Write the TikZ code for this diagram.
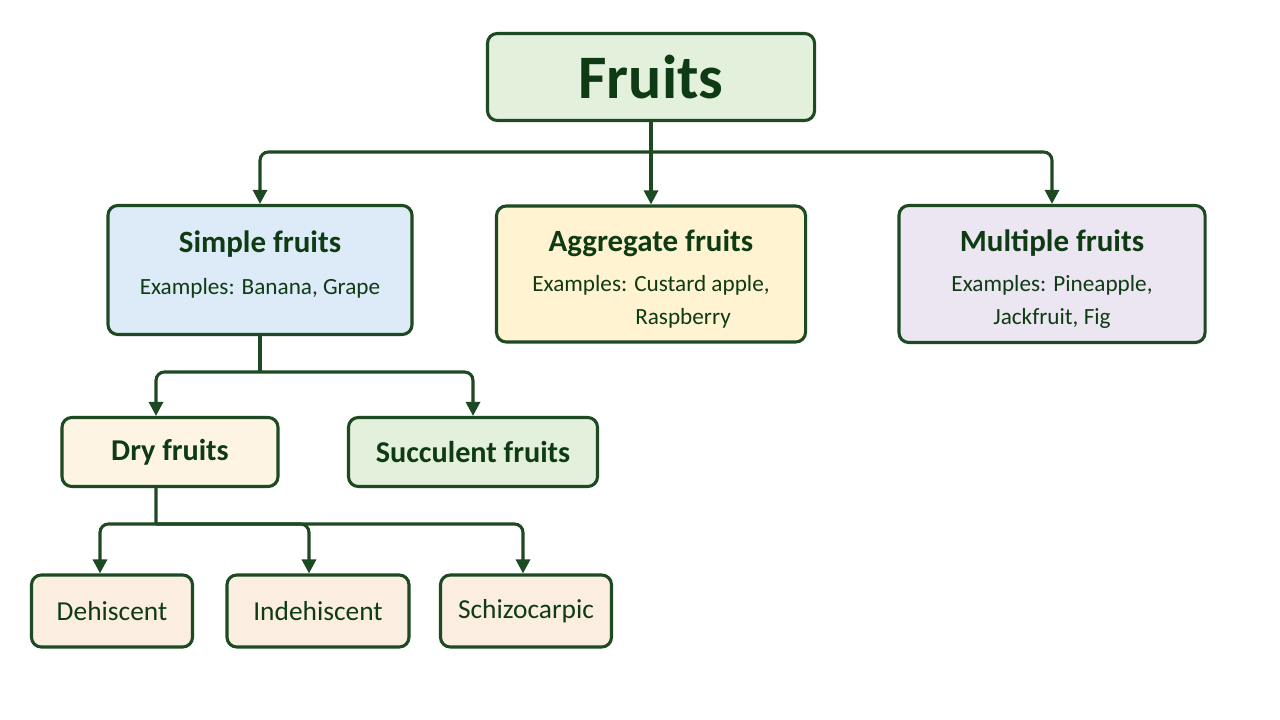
\documentclass[tikz,border=0pt]{standalone}
\usepackage{fontspec}
\setmainfont{Carlito}
\usepackage{tikz}
\usetikzlibrary{arrows.meta,positioning}

\definecolor{linegreen}{HTML}{1D4A22}
\definecolor{textgreen}{HTML}{0E3B13}
\definecolor{rootfill}{HTML}{E3F0DB}
\definecolor{simplefill}{HTML}{DDEBF8}
\definecolor{aggrfill}{HTML}{FFF3D1}
\definecolor{multifill}{HTML}{ECE6F3}
\definecolor{dryfill}{HTML}{FDF4E4}
\definecolor{succfill}{HTML}{E3F0DB}
\definecolor{leaffill}{HTML}{FCEDE1}

\begin{document}
\begin{tikzpicture}[
    x=0.025cm, y=-0.025cm,
    box/.style={
        draw=linegreen,
        line width=2.2pt,
        rounded corners=7pt,
        align=center,
        text=textgreen,
        inner sep=2pt
    },
    root/.style={box, fill=rootfill, font=\fontsize{44}{48}\selectfont\bfseries},
    kind/.style={box, font=\fontsize{16.5}{23.5}\selectfont},
    sub/.style={box, font=\fontsize{21.5}{24}\selectfont\bfseries},
    leaf/.style={box, fill=leaffill, font=\fontsize{19.5}{22}\selectfont},
    arrow/.style={-{Triangle[length=10pt,width=10pt]}, line width=2.2pt, draw=linegreen},
    bar/.style={arrow, rounded corners=6pt}
]
\useasboundingbox (0,0) rectangle (1280,720);

\node[root, minimum width=8.175cm, minimum height=2.175cm] (fruits) at (651,77) {Fruits};

\node[kind, fill=simplefill, minimum width=7.6cm, minimum height=3.225cm] (simple) at (260,270)
    {{\fontsize{22}{24}\selectfont\bfseries Simple fruits}\\[6pt]Examples: Banana, Grape\\[-13pt]\mbox{}};
\node[kind, fill=aggrfill, minimum width=7.725cm, minimum height=3.4cm] (aggregate) at (651,274)
    {\mbox{}\\[-1pt]{\fontsize{22}{24}\selectfont\bfseries Aggregate fruits}\\[5pt]Examples: Custard apple,\\\hspace*{1.6cm}Raspberry};
\node[kind, fill=multifill, minimum width=7.65cm, minimum height=3.425cm] (multiple) at (1052,274)
    {\mbox{}\\[-1pt]{\fontsize{22}{24}\selectfont\bfseries Multiple fruits}\\[5pt]Examples: Pineapple,\\Jackfruit, Fig};

\node[sub, fill=dryfill, minimum width=5.4cm, minimum height=1.725cm] (dry) at (170,452) {Dry fruits};
\node[sub, fill=succfill, minimum width=6.225cm, minimum height=1.725cm] (succulent) at (473,452) {Succulent fruits};

\node[leaf, minimum width=4.025cm, minimum height=1.8cm] (dehiscent) at (112,611) {Dehiscent};
\node[leaf, minimum width=4.55cm, minimum height=1.8cm] (indehiscent) at (318,611) {Indehiscent};
\node[leaf, minimum width=4.275cm, minimum height=1.8cm] (schizo) at (526,611) {Schizocarpic};

% branch points
\coordinate (fruitsbar) at (651,152);
\coordinate (simplebar) at (260,372);
\coordinate (drybar) at (156,524);

\draw[arrow] (fruits.south) -- (aggregate.north);
\draw[bar] (fruitsbar) -| (simple.north);
\draw[bar] (fruitsbar) -| (multiple.north);

\draw[line width=2.2pt, draw=linegreen] (simple.south) -- (simplebar);
\draw[bar] (simplebar) -| ([xshift=-0.35cm]dry.north);
\draw[bar] (simplebar) -| (succulent.north);

\draw[line width=2.2pt, draw=linegreen] ([xshift=-0.35cm]dry.south) -- (drybar);
\draw[bar] (drybar) -| ([xshift=-0.3cm]dehiscent.north);
\draw[bar] (drybar) -| ([xshift=-0.225cm]indehiscent.north);
\draw[bar] (drybar) -| ([xshift=-0.075cm]schizo.north);
\end{tikzpicture}
\end{document}
